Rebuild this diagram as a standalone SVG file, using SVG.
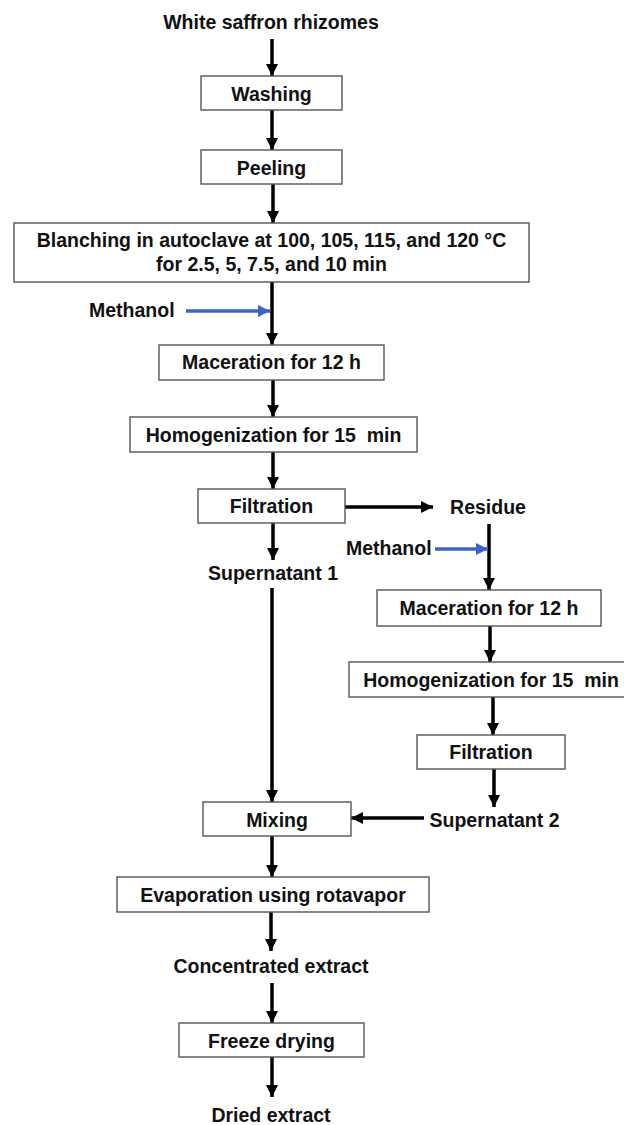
<svg xmlns="http://www.w3.org/2000/svg" width="624" height="1125" viewBox="0 0 624 1125">
<style>
.bx{fill:#fff;stroke:#555;stroke-width:1.4}
.t{font-family:"Liberation Sans",Arial,sans-serif;font-weight:bold;font-size:19.5px;fill:#111;text-anchor:middle}
.ts{font-family:"Liberation Sans",Arial,sans-serif;font-weight:bold;font-size:19.5px;fill:#111;text-anchor:start}
.k{stroke:#000;stroke-width:3.5;fill:none}
.b{stroke:#3F63C5;stroke-width:3.5;fill:none}
</style>
<defs>
<marker id="ak" markerUnits="userSpaceOnUse" markerWidth="12" markerHeight="12" refX="12" refY="6" orient="auto"><path d="M0,0 L12,6 L0,12 z" fill="#000"/></marker>
<marker id="ab" markerUnits="userSpaceOnUse" markerWidth="12" markerHeight="12" refX="12" refY="6" orient="auto"><path d="M0,0 L12,6 L0,12 z" fill="#3F63C5"/></marker>
</defs>
<rect width="624" height="1125" fill="#fff"/>
<g id="connectors">
<line class="k" x1="272" y1="39" x2="272" y2="76" marker-end="url(#ak)"/>
<line class="k" x1="272" y1="110" x2="272" y2="150" marker-end="url(#ak)"/>
<line class="k" x1="273" y1="184" x2="273" y2="223" marker-end="url(#ak)"/>
<line class="k" x1="272" y1="282" x2="272" y2="345" marker-end="url(#ak)"/>
<line class="b" x1="186" y1="311" x2="270" y2="311" marker-end="url(#ab)"/>
<line class="k" x1="273" y1="380" x2="273" y2="417" marker-end="url(#ak)"/>
<line class="k" x1="273" y1="452" x2="273" y2="489" marker-end="url(#ak)"/>
<line class="k" x1="345" y1="507" x2="433" y2="507" marker-end="url(#ak)"/>
<line class="k" x1="273" y1="523" x2="273" y2="560" marker-end="url(#ak)"/>
<line class="k" x1="272" y1="588" x2="272" y2="802" marker-end="url(#ak)"/>
<line class="k" x1="489" y1="524" x2="489" y2="590" marker-end="url(#ak)"/>
<line class="b" x1="435" y1="549" x2="488" y2="549" marker-end="url(#ab)"/>
<line class="k" x1="490" y1="626" x2="490" y2="662" marker-end="url(#ak)"/>
<line class="k" x1="493" y1="697" x2="493" y2="735" marker-end="url(#ak)"/>
<line class="k" x1="494" y1="769" x2="494" y2="807" marker-end="url(#ak)"/>
<line class="k" x1="424" y1="818" x2="351" y2="818" marker-end="url(#ak)"/>
<line class="k" x1="272" y1="836" x2="272" y2="877" marker-end="url(#ak)"/>
<line class="k" x1="271" y1="912" x2="271" y2="951" marker-end="url(#ak)"/>
<line class="k" x1="272" y1="983" x2="272" y2="1023" marker-end="url(#ak)"/>
<line class="k" x1="272" y1="1057" x2="272" y2="1097" marker-end="url(#ak)"/>
</g>
<g id="n-start"><text class="t" x="271" y="29">White saffron rhizomes</text></g>
<g id="n-washing"><rect class="bx" x="201" y="76" width="141" height="34"/><text class="t" x="271.5" y="101">Washing</text></g>
<g id="n-peeling"><rect class="bx" x="201" y="150" width="141" height="34"/><text class="t" x="271.5" y="175">Peeling</text></g>
<g id="n-blanching"><rect class="bx" x="14" y="223" width="515" height="59"/><text class="t" x="271.5" y="247">Blanching in autoclave at 100, 105, 115, and 120 °C</text><text class="t" x="271.5" y="271">for 2.5, 5, 7.5, and 10 min</text></g>
<g id="n-methanol1"><text class="ts" x="89" y="317">Methanol</text></g>
<g id="n-maceration1"><rect class="bx" x="159" y="345" width="225" height="35"/><text class="t" x="271.5" y="369">Maceration for 12 h</text></g>
<g id="n-homog1"><rect class="bx" x="130" y="417" width="287" height="35"/><text class="t" x="273.5" y="442" xml:space="preserve">Homogenization for 15  min</text></g>
<g id="n-filtration1"><rect class="bx" x="198" y="489" width="147" height="34"/><text class="t" x="271.5" y="513">Filtration</text></g>
<g id="n-residue"><text class="t" x="488" y="514">Residue</text></g>
<g id="n-super1"><text class="t" x="273" y="580">Supernatant 1</text></g>
<g id="n-methanol2"><text class="ts" x="346" y="555">Methanol</text></g>
<g id="n-maceration2"><rect class="bx" x="377" y="590" width="224" height="36"/><text class="t" x="489" y="615">Maceration for 12 h</text></g>
<g id="n-homog2"><rect class="bx" x="349" y="662" width="287" height="35"/><text class="t" x="491" y="687" xml:space="preserve">Homogenization for 15  min</text></g>
<g id="n-filtration2"><rect class="bx" x="417" y="735" width="148" height="34"/><text class="t" x="491" y="759">Filtration</text></g>
<g id="n-super2"><text class="t" x="494.5" y="827">Supernatant 2</text></g>
<g id="n-mixing"><rect class="bx" x="203" y="802" width="148" height="34"/><text class="t" x="277" y="827">Mixing</text></g>
<g id="n-evap"><rect class="bx" x="117" y="877" width="312" height="35"/><text class="t" x="273" y="902">Evaporation using rotavapor</text></g>
<g id="n-conc"><text class="t" x="271" y="973">Concentrated extract</text></g>
<g id="n-freeze"><rect class="bx" x="179" y="1023" width="185" height="34"/><text class="t" x="271.5" y="1048">Freeze drying</text></g>
<g id="n-dried"><text class="t" x="271" y="1122">Dried extract</text></g>
</svg>
